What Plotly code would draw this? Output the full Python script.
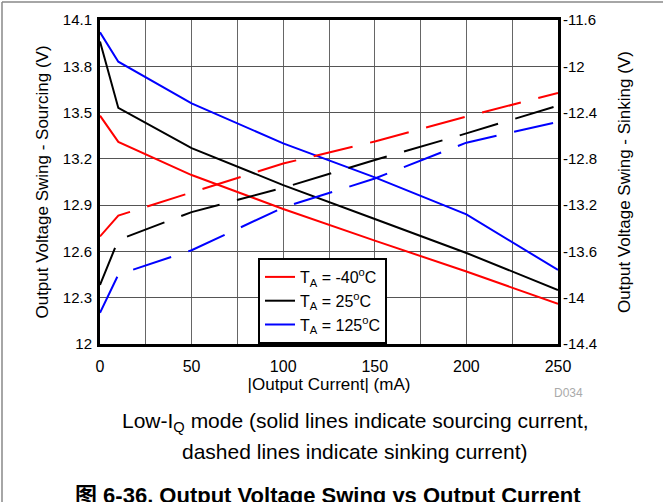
import plotly.graph_objects as go

current = [0, 10, 50, 100, 150, 200, 250]

# Sourcing (left axis, V)
src_m40 = [13.48, 13.31, 13.095, 12.875, 12.67, 12.47, 12.26]
src_25 = [13.96, 13.53, 13.27, 13.03, 12.81, 12.59, 12.35]
src_125 = [14.02, 13.83, 13.56, 13.30, 13.08, 12.84, 12.48]

# Sinking (right axis, V)
snk_m40 = [-13.47, -13.29, -13.09, -12.84, -12.65, -12.435, -12.23]
snk_25 = [-13.89, -13.50, -13.26, -13.05, -12.81, -12.58, -12.34]
snk_125 = [-14.13, -13.80, -13.59, -13.22, -12.97, -12.66, -12.48]

names = ["T<sub>A</sub> = -40<sup>o</sup>C", "T<sub>A</sub> = 25<sup>o</sup>C", "T<sub>A</sub> = 125<sup>o</sup>C"]
colors = ["#ff0000", "#000000", "#0000ff"]

x_ticks = [0, 50, 100, 150, 200, 250]
left_ticks = [12, 12.3, 12.6, 12.9, 13.2, 13.5, 13.8, 14.1]
left_labels = ["12", "12.3", "12.6", "12.9", "13.2", "13.5", "13.8", "14.1"]
right_ticks = [-14.4, -14, -13.6, -13.2, -12.8, -12.4, -12, -11.6]
right_labels = ["-14.4", "-14", "-13.6", "-13.2", "-12.8", "-12.4", "-12", "-11.6"]

FONT = "Liberation Sans, Arial, Noto Sans CJK SC, sans-serif"

fig = go.Figure()
for ys, nm, c in zip([src_m40, src_25, src_125], names, colors):
    fig.add_trace(go.Scatter(x=current, y=ys, mode="lines", name=nm,
                             line=dict(color=c, width=2), yaxis="y"))
for ys, c in zip([snk_m40, snk_25, snk_125], colors):
    fig.add_trace(go.Scatter(x=current, y=ys, mode="lines", showlegend=False,
                             line=dict(color=c, width=2, dash="40px,18px"), yaxis="y2"))

W, H = 663, 502
L, R, T, B = 100, 105, 20, 158
pw, ph = W - L - R, H - T - B

def px(x):
    return (x - L) / pw

def py(y):
    return (H - B - y) / ph

fig.update_layout(
    width=W, height=H,
    margin=dict(l=L, r=R, t=T, b=B, autoexpand=False),
    paper_bgcolor="white", plot_bgcolor="white",
    font=dict(family=FONT, size=15, color="black"),
    xaxis=dict(range=[0, 250], tickvals=x_ticks, automargin=False,
               tickfont=dict(size=16),
               showgrid=True, gridcolor="#666", gridwidth=1.2,
               minor=dict(dtick=25, showgrid=True, gridcolor="#666", gridwidth=1.2),
               showline=True, linecolor="black", linewidth=3, mirror=True,
               ticks="", zeroline=False, ticklabelstandoff=6,
               title=dict(text="|Output Current| (mA)", standoff=0, font=dict(size=17))),
    yaxis=dict(range=[12, 14.1], tickvals=left_ticks, ticktext=left_labels, automargin=False,
               showgrid=True, gridcolor="#555", gridwidth=1.2,
               showline=True, linecolor="black", linewidth=3, mirror=True,
               ticks="", zeroline=False, ticklabelstandoff=2,
               title=dict(text="Output Voltage Swing - Sourcing (V)", standoff=10, font=dict(size=17))),
    yaxis2=dict(range=[-14.4, -11.6], tickvals=right_ticks, ticktext=right_labels,
                overlaying="y", side="right", showgrid=False, ticks="", zeroline=False,
                showline=False, automargin=False, ticklabelstandoff=4,
                title=dict(text="Output Voltage Swing - Sinking (V)", standoff=21, font=dict(size=17))),
    legend=dict(x=px(258), y=py(258), xanchor="left", yanchor="top",
                bgcolor="white", bordercolor="black", borderwidth=2,
                font=dict(size=16), tracegroupgap=0, itemwidth=30),
    showlegend=True,
)

annotations = [
    dict(text="D034", x=px(568), y=py(393), xanchor="center", yanchor="middle",
         font=dict(size=12, color="#aaaaaa")),
    dict(text="Low-I<sub>Q</sub> mode (solid lines indicate sourcing current,",
         x=px(355), y=py(422), xanchor="center", yanchor="middle", font=dict(size=21)),
    dict(text="dashed lines indicate sinking current)",
         x=px(355), y=py(451), xanchor="center", yanchor="middle", font=dict(size=21)),
    dict(text="<b>图 6-36. Output Voltage Swing vs Output Current</b>",
         x=px(328), y=py(496), xanchor="center", yanchor="middle", font=dict(size=22)),
]
for a in annotations:
    a.update(xref="paper", yref="paper", showarrow=False)
fig.update_layout(annotations=annotations)

fig.add_shape(type="line", xref="paper", yref="paper", x0=px(2), x1=px(663), y0=py(2), y1=py(2),
              line=dict(color="#888", width=1.5))
fig.add_shape(type="line", xref="paper", yref="paper", x0=px(2), x1=px(2), y0=py(2), y1=py(502),
              line=dict(color="#888", width=1.5))

fig.write_html("out.html", config={"displayModeBar": False},
               post_script="document.body.style.margin='0';document.body.style.overflow='hidden';")
